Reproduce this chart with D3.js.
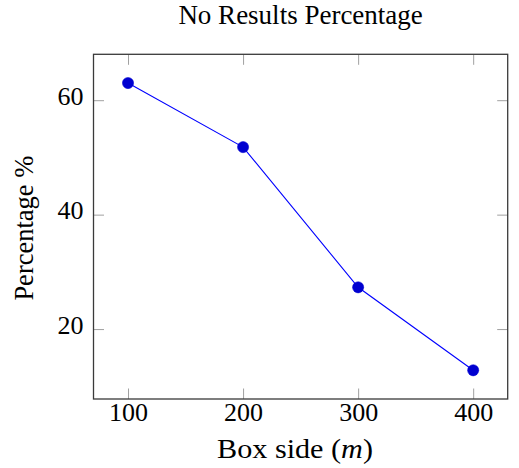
<!DOCTYPE html>
<html>
<head>
<meta charset="utf-8">
<script src="https://cdn.jsdelivr.net/npm/d3@7"></script>
<style>
html,body{margin:0;padding:0;background:#fff;}
svg{display:block;}
</style>
</head>
<body>
<svg id="chart" width="519" height="468"></svg>
<script>
const boxSides = [100, 200, 300, 400];
const noResultPct = [63.0, 51.8, 27.3, 12.8];
const xTicks = [100, 200, 300, 400];
const yTicks = [20, 40, 60];
const title = "No Results Percentage";
const xLabel = "Box side";
const xUnit = "m";
const yLabel = "Percentage %";

const W = 519, H = 468;
const m = {left: 93.5, right: 519 - 507.7, top: 54.3, bottom: 468 - 399};
const svg = d3.select("#chart");
const FONT = '"Liberation Serif", "Times New Roman", serif';

function enlarge(ext) { const d = (ext[1] - ext[0]) * 0.1; return [ext[0] - d, ext[1] + d]; }
const x = d3.scaleLinear().domain(enlarge(d3.extent(boxSides))).range([m.left, W - m.right]);
const y = d3.scaleLinear().domain(enlarge(d3.extent(noResultPct))).range([H - m.bottom, m.top]);

const tickLen = 10.5, tickColor = "#a0a0a0";

const gb = svg.append("g").attr("transform", `translate(0,${H - m.bottom})`)
  .call(d3.axisBottom(x).tickValues(xTicks).tickSizeInner(-tickLen).tickSizeOuter(0).tickPadding(4).tickFormat(d3.format("d")));
const gt = svg.append("g").attr("transform", `translate(0,${m.top})`)
  .call(d3.axisTop(x).tickValues(xTicks).tickSizeInner(-tickLen).tickSizeOuter(0).tickFormat(""));
const gl = svg.append("g").attr("transform", `translate(${m.left},0)`)
  .call(d3.axisLeft(y).tickValues(yTicks).tickSizeInner(-tickLen).tickSizeOuter(0).tickPadding(10).tickFormat(d3.format("d")));
const gr = svg.append("g").attr("transform", `translate(${W - m.right},0)`)
  .call(d3.axisRight(y).tickValues(yTicks).tickSizeInner(-tickLen).tickSizeOuter(0).tickFormat(""));

[gb, gt, gl, gr].forEach(g => {
  g.attr("font-family", FONT).attr("font-size", 26);
  g.select(".domain").remove();
  g.selectAll(".tick line").attr("stroke", tickColor).attr("stroke-width", 1);
  g.selectAll(".tick text").attr("fill", "#000");
});
gb.selectAll(".tick text").attr("dy", "0.71em");
gl.selectAll(".tick text").attr("dy", "0.16em");

svg.append("rect")
  .attr("x", m.left).attr("y", m.top)
  .attr("width", W - m.left - m.right).attr("height", H - m.top - m.bottom)
  .attr("fill", "none").attr("stroke", "#3a3a3a").attr("stroke-width", 1.3);

const pts = boxSides.map((d, i) => [d, noResultPct[i]]);
svg.append("path")
  .datum(pts)
  .attr("fill", "none").attr("stroke", "#0000ff").attr("stroke-width", 1.1)
  .attr("d", d3.line().x(d => x(d[0])).y(d => y(d[1])));

svg.selectAll("circle.pt").data(pts).enter().append("circle")
  .attr("class", "pt")
  .attr("cx", d => x(d[0])).attr("cy", d => y(d[1])).attr("r", 5.6)
  .attr("fill", "#0000d0").attr("stroke", "#0000d0").attr("stroke-width", 0.5);

svg.append("text")
  .attr("x", (m.left + W - m.right) / 2).attr("y", 24)
  .attr("text-anchor", "middle").attr("font-family", FONT).attr("font-size", 27)
  .text(title);

const xl = svg.append("text")
  .attr("x", 295).attr("y", 458)
  .attr("text-anchor", "middle").attr("font-family", FONT).attr("font-size", 27)
  .attr("textLength", 156).attr("lengthAdjust", "spacingAndGlyphs");
xl.append("tspan").text(xLabel + " (");
xl.append("tspan").attr("font-style", "italic").text(xUnit);
xl.append("tspan").text(")");

svg.append("text")
  .attr("transform", `translate(33,${(m.top + H - m.bottom) / 2 + 1.5}) rotate(-90)`)
  .attr("text-anchor", "middle").attr("font-family", FONT).attr("font-size", 26.5)
  .text(yLabel);
</script>
</body>
</html>
